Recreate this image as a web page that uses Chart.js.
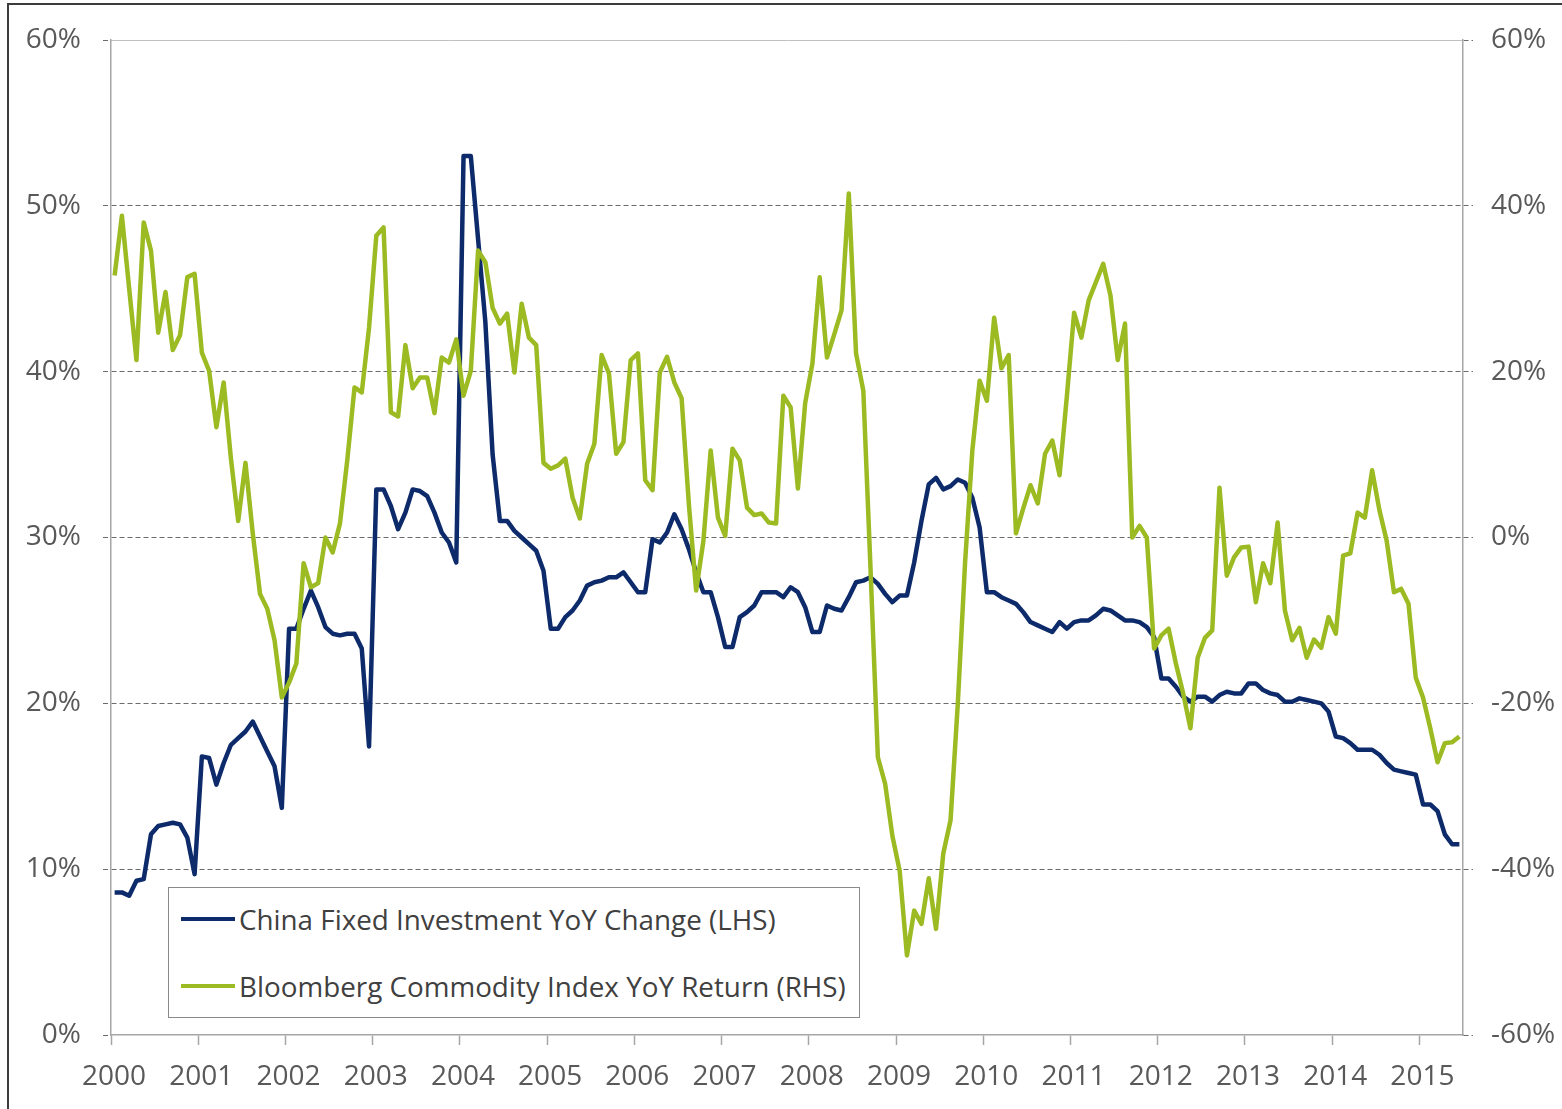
<!DOCTYPE html>
<html>
<head>
<meta charset="utf-8">
<script src="https://cdn.jsdelivr.net/npm/chart.js@4.4.1/dist/chart.umd.min.js"></script>
<style>
  html, body { margin: 0; padding: 0; background: #ffffff; }
  #wrap { position: relative; width: 1562px; height: 1109px; overflow: hidden; background: #fff; }
  #c { position: absolute; left: 0; top: 0; }
  #frame { position: absolute; left: 7px; top: 3px; width: 1600px; height: 1200px;
           border-left: 2px solid #3c3c3c; border-top: 2px solid #3c3c3c; pointer-events: none; }
  #legend { position: absolute; left: 168px; top: 887px; width: 692px; height: 131px; box-sizing: border-box;
            border: 1.5px solid #8a8a8a; background: #fff; font-family: 'Open Sans', sans-serif;
            font-size: 27.8px; color: #404040; }
  .row { position: absolute; left: 0; height: 40px; display: flex; align-items: center; white-space: nowrap; }
  .sw { width: 54px; height: 4.5px; margin-left: 12px; margin-right: 4px; }
</style>
</head>
<body>
<div id="wrap">
  <canvas id="c" width="1562" height="1109"></canvas>
  <div id="legend"></div>
  <div id="frame"></div>
</div>
<script>
// ---------- DATA ----------
const yearLabels = ['2000','2001','2002','2003','2004','2005','2006','2007',
                    '2008','2009','2010','2011','2012','2013','2014','2015'];
const seriesNames = ['China Fixed Investment YoY Change (LHS)',
                     'Bloomberg Commodity Index YoY Return (RHS)'];
const seriesColors = ['#0D2A6B', '#9CBA22'];
const leftTickValues = [0, 10, 20, 30, 40, 50, 60];
const rightTickValues = [-60, -40, -20, 0, 20, 40, 60];

// monthly, Jan 2000 .. Jun 2015 (LHS, %)
const chinaFixedInvestment = [
  8.6, 8.6, 8.4, 9.3, 9.4, 12.1, 12.6, 12.7, 12.8, 12.7, 11.9, 9.7,
  16.8, 16.7, 15.1, 16.4, 17.5, 17.9, 18.3, 18.9, 18.0, 17.1, 16.2, 13.7,
  24.5, 24.5, 25.7, 26.8, 25.8, 24.6, 24.2, 24.1, 24.2, 24.2, 23.3, 17.4,
  32.9, 32.9, 31.9, 30.5, 31.5, 32.9, 32.8, 32.5, 31.5, 30.3, 29.7, 28.5,
  53.0, 53.0, 48.0, 43.0, 35.0, 31.0, 31.0, 30.4, 30.0, 29.6, 29.2, 28.0,
  24.5, 24.5, 25.2, 25.6, 26.2, 27.1, 27.3, 27.4, 27.6, 27.6, 27.9, 27.3,
  26.7, 26.7, 29.9, 29.7, 30.3, 31.4, 30.5, 29.3, 27.9, 26.7, 26.7, 25.2,
  23.4, 23.4, 25.2, 25.5, 25.9, 26.7, 26.7, 26.7, 26.4, 27.0, 26.7, 25.8,
  24.3, 24.3, 25.9, 25.7, 25.6, 26.4, 27.3, 27.4, 27.6, 27.2, 26.6, 26.1,
  26.5, 26.5, 28.5, 31.0, 33.2, 33.6, 32.9, 33.1, 33.5, 33.3, 32.4, 30.6,
  26.7, 26.7, 26.4, 26.2, 26.0, 25.5, 24.9, 24.7, 24.5, 24.3, 24.9, 24.5,
  24.9, 25.0, 25.0, 25.3, 25.7, 25.6, 25.3, 25.0, 25.0, 24.9, 24.6, 24.0,
  21.5, 21.5, 21.0, 20.4, 20.1, 20.4, 20.4, 20.1, 20.5, 20.7, 20.6, 20.6,
  21.2, 21.2, 20.8, 20.6, 20.5, 20.1, 20.1, 20.3, 20.2, 20.1, 20.0, 19.5,
  18.0, 17.9, 17.6, 17.2, 17.2, 17.2, 16.9, 16.4, 16.0, 15.9, 15.8, 15.7,
  13.9, 13.9, 13.5, 12.1, 11.5, 11.5
];

// monthly, Jan 2000 .. Jun 2015 (RHS, %)
const bloombergCommodity = [
  31.6, 38.8, 30.0, 21.4, 38.0, 34.6, 24.7, 29.6, 22.6, 24.4, 31.4, 31.8,
  22.3, 20.1, 13.3, 18.7, 9.5, 2.0, 9.0, 0.5, -6.8, -8.6, -12.4, -19.3,
  -17.5, -15.2, -3.1, -6.0, -5.5, 0.0, -1.8, 1.7, 9.3, 18.1, 17.5, 25.3,
  36.4, 37.4, 15.1, 14.6, 23.2, 18.0, 19.3, 19.3, 15.0, 21.7, 21.1, 23.9,
  17.1, 20.1, 34.6, 33.2, 27.7, 25.8, 27.0, 19.9, 28.2, 24.1, 23.2, 9.0,
  8.3, 8.7, 9.5, 4.8, 2.3, 8.9, 11.3, 22.0, 19.8, 10.1, 11.5, 21.4,
  22.2, 6.9, 5.7, 19.9, 21.8, 18.7, 16.8, 4.0, -6.4, -0.4, 10.5, 2.4,
  0.2, 10.7, 9.3, 3.6, 2.7, 2.9, 1.8, 1.7, 17.1, 15.7, 5.9, 16.2,
  21.0, 31.4, 21.7, 24.5, 27.4, 41.5, 22.2, 17.7, -4.0, -26.5, -29.7, -36.0,
  -40.2, -50.4, -45.0, -46.6, -41.1, -47.2, -38.1, -34.1, -20.0, -3.0, 10.5, 18.9,
  16.5, 26.5, 20.4, 22.0, 0.5, 3.5, 6.3, 4.1, 10.1, 11.7, 7.5, 17.0,
  27.1, 24.1, 28.6, 30.8, 33.0, 29.2, 21.4, 25.8, 0.0, 1.4, 0.0, -13.4,
  -11.8, -11.0, -15.2, -18.8, -23.0, -14.5, -12.1, -11.2, 6.0, -4.6, -2.4, -1.2,
  -1.1, -7.8, -3.1, -5.5, 1.8, -8.8, -12.4, -10.9, -14.5, -12.3, -13.3, -9.6,
  -11.6, -2.2, -1.9, 3.0, 2.4, 8.1, 3.3, -0.4, -6.6, -6.2, -8.0, -16.9,
  -19.3, -23.0, -27.1, -24.8, -24.7, -24.0
];

// ---------- CHART ----------
const totalMonths = chinaFixedInvestment.length;
const toPoints = vals => vals.map((v, i) => ({ x: i + 0.5, y: v }));

Chart.defaults.font.family = "'Open Sans', sans-serif";
Chart.defaults.color = '#595959';

const GRID = '#6b6b6b';
const AXIS = '#a6a6a6';

new Chart(document.getElementById('c'), {
  type: 'line',
  data: {
    datasets: [
      { label: seriesNames[0], data: toPoints(chinaFixedInvestment), xAxisID: 'x', yAxisID: 'y',
        borderColor: seriesColors[0], backgroundColor: seriesColors[0], borderWidth: 4.5,
        pointRadius: 0, tension: 0, fill: false, order: 2, borderJoinStyle: 'round' },
      { label: seriesNames[1], data: toPoints(bloombergCommodity), xAxisID: 'x', yAxisID: 'y1',
        borderColor: seriesColors[1], backgroundColor: seriesColors[1], borderWidth: 4.5,
        pointRadius: 0, tension: 0, fill: false, order: 1, borderJoinStyle: 'round' }
    ]
  },
  options: {
    responsive: false,
    animation: false,
    devicePixelRatio: 1,
    layout: { padding: 0 },
    plugins: { legend: { display: false }, tooltip: { enabled: false } },
    scales: {
      x: {
        type: 'linear', position: 'bottom', min: 0, max: totalMonths,
        afterFit: s => { s.height = 74; },
        afterBuildTicks: s => { s.ticks = yearLabels.map((_, i) => ({ value: i * 12 })); },
        ticks: { autoSkip: false, maxRotation: 0, padding: 15, labelOffset: 3, color: '#595959',
                 font: { size: 28 }, callback: v => yearLabels[Math.round(v / 12)] },
        grid: { drawOnChartArea: false, drawTicks: true, tickLength: 10, tickColor: AXIS, tickWidth: 1.5 },
        border: { color: AXIS, width: 1.5 }
      },
      xTop: {
        type: 'linear', position: 'top', min: 0, max: totalMonths,
        afterFit: s => { s.height = 40; },
        ticks: { display: false },
        grid: { display: false },
        border: { color: '#c0c0c0', width: 1 }
      },
      y: {
        position: 'left', min: 0, max: 60,
        afterFit: s => { s.width = 111; },
        afterBuildTicks: s => { s.ticks = leftTickValues.map(v => ({ value: v })); },
        ticks: { padding: 22, color: '#595959', font: { size: 28 }, callback: v => v + '%' },
        grid: {
          color: c => (c.tick && (c.tick.value === 0 || c.tick.value === 60)) ? 'rgba(0,0,0,0)' : GRID,
          lineWidth: 1, tickLength: 8, tickColor: GRID, tickBorderDash: [5, 3]
        },
        border: { color: AXIS, width: 1.5, dash: [5, 3] }
      },
      y1: {
        position: 'right', min: -60, max: 60,
        afterFit: s => { s.width = 99; },
        afterBuildTicks: s => { s.ticks = rightTickValues.map(v => ({ value: v })); },
        ticks: { padding: 18, color: '#595959', font: { size: 28 }, callback: v => v + '%' },
        grid: { drawOnChartArea: false, tickLength: 10, tickColor: GRID, tickBorderDash: [5, 3] },
        border: { color: AXIS, width: 1.5 }
      }
    }
  }
});

// ---------- LEGEND (HTML) ----------
const legend = document.getElementById('legend');
const rowTops = [11, 78];
seriesNames.forEach((name, i) => {
  const row = document.createElement('div');
  row.className = 'row';
  row.style.top = rowTops[i] + 'px';
  const sw = document.createElement('span');
  sw.className = 'sw';
  sw.style.background = seriesColors[i];
  const txt = document.createElement('span');
  txt.textContent = name;
  row.appendChild(sw);
  row.appendChild(txt);
  legend.appendChild(row);
});
</script>
</body>
</html>
